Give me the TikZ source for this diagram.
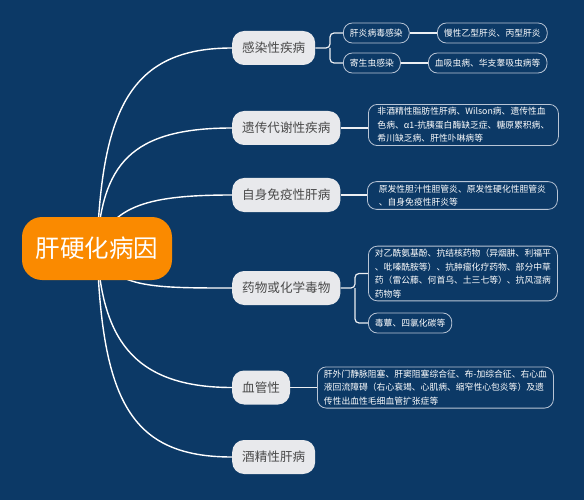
\documentclass[tikz,border=0pt]{standalone}
\usepackage{fontspec}
\setmainfont{Noto Sans CJK SC}
\usetikzlibrary{backgrounds}
\definecolor{bgc}{HTML}{0C3966}
\definecolor{rootc}{HTML}{FA8A00}
\definecolor{brfill}{HTML}{E8E9EC}
\definecolor{brtext}{HTML}{4A4A4A}
\definecolor{subline}{HTML}{B9C5D6}
\tikzset{
  rootbox/.style={fill=rootc, rounded corners=20pt, minimum width=150pt, minimum height=63pt, text=white, font=\fontsize{24.5}{28}\selectfont, inner sep=0pt},
  branch/.style={fill=brfill, rounded corners=12pt, minimum height=34pt, inner xsep=10pt, inner ysep=0pt, text=brtext, font=\fontsize{12.6}{15}\selectfont, anchor=west},
  subbox/.style={draw=subline, line width=0.8pt, rounded corners=9pt, minimum height=20pt, inner xsep=6.5pt, inner ysep=3pt, text=white, font=\fontsize{8.8}{13.5}\selectfont, align=left, anchor=west},
  link/.style={draw=white, line width=1.4pt},
  sublink/.style={draw=white!92!bgc, line width=1.2pt, rounded corners=4pt},
}
\begin{document}
\begin{tikzpicture}[x=1pt,y=-1pt]
\useasboundingbox (0,0) rectangle (584,500);
% nodes
\node[rootbox] (root) at (97,248.5) {肝硬化病因};
\node[branch] (b1) at (232,48) {感染性疾病};
\node[branch] (b2) at (232,128) {遗传代谢性疾病};
\node[branch] (b3) at (232,195) {自身免疫性肝病};
\node[branch] (b4) at (232,288) {药物或化学毒物};
\node[branch] (b5) at (232,387.5) {血管性};
\node[branch] (b6) at (232,457) {酒精性肝病};

\node[subbox] (s1a) at (343,33) {肝炎病毒感染};
\node[subbox] (s1b) at (343,63) {寄生虫感染};
\node[subbox] (t1a) at (437,33) {慢性乙型肝炎、丙型肝炎};
\node[subbox] (t1b) at (428,63) {血吸虫病、华支睾吸虫病等};
\node[subbox, minimum width=190pt] (s2) at (368,125) {非酒精性脂肪性肝病、Wilson病、遗传性血\\色病、α1-抗胰蛋白酶缺乏症、糖原累积病、\\希川缺乏病、肝性卟啉病等};
\node[subbox, minimum width=190pt] (s3) at (367,195.5) {原发性胆汁性胆管炎、原发性硬化性胆管炎\\、自身免疫性肝炎等};
\node[subbox, minimum width=189pt] (s4a) at (368,273.5) {对乙酰氨基酚、抗结核药物（异烟肼、利福平\\、吡嗪酰胺等）、抗肿瘤化疗药物、部分中草\\药（雷公藤、何首乌、土三七等）、抗风湿病\\药物等};
\node[subbox] (s4b) at (368,323) {毒蕈、四氯化碳等};
\node[subbox, minimum width=236pt] (s5) at (317,387.5) {肝外门静脉阻塞、肝窦阻塞综合征、布-加综合征、右心血\\液回流障碍（右心衰竭、心肌病、缩窄性心包炎等）及遗\\传性出血性毛细血管扩张症等};

\begin{pgfonlayer}{background}
\fill[bgc] (0,0) rectangle (584,500);
% main curves
\draw[link] (root.center) .. controls (102,110) and (130,48) .. (b1.west);
\draw[link] (root.center) .. controls (102,165) and (130,128) .. (b2.west);
\draw[link] (root.center) .. controls (112,205) and (150,195) .. (b3.west);
\draw[link] (root.center) .. controls (112,288) and (150,288) .. (b4.west);
\draw[link] (root.center) .. controls (102,335) and (130,387.5) .. (b5.west);
\draw[link] (root.center) .. controls (102,400) and (130,457) .. (b6.west);
% sub connectors
\coordinate (f1) at (330,48);
\draw[sublink] (b1.east) -- (f1) |- (s1a.west);
\draw[sublink] (f1) |- (s1b.west);
\draw[sublink] (s1a.east) -- (t1a.west);
\draw[sublink] (s1b.east) -- (t1b.west);
\draw[sublink] (b2.east) -- (b2.east -| s2.west);
\draw[sublink] (b3.east) -- (b3.east -| s3.west);
\coordinate (f4) at (355,288);
\draw[sublink] (b4.east) -- (f4) |- (s4a.west);
\draw[sublink] (f4) |- (s4b.west);
\draw[sublink] (b5.east) -- (s5.west);
\end{pgfonlayer}
\end{tikzpicture}
\end{document}
